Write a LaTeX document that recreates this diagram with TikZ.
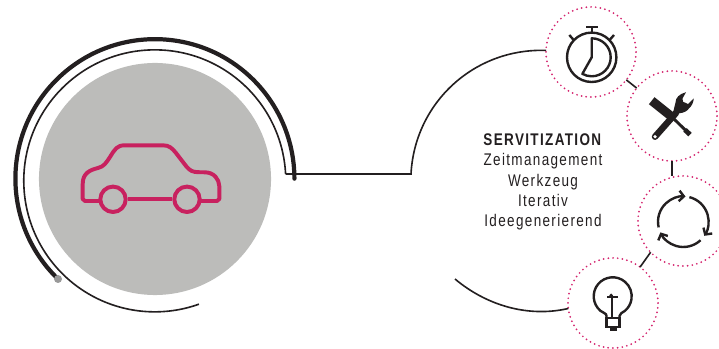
\documentclass[tikz,border=0pt]{standalone}
\usepackage{fontspec}
\newfontfamily\labelfont[FakeStretch=0.8,LetterSpace=8]{Liberation Sans}
\usetikzlibrary{arrows.meta}
\definecolor{ink}{HTML}{231F20}
\definecolor{hubgray}{HTML}{BCBCBA}
\definecolor{carpink}{HTML}{C8215F}
\definecolor{dotpink}{HTML}{D4246E}
\begin{document}
\begin{tikzpicture}[x=0.025cm,y=0.025cm,>=Stealth,
  wire/.style={draw=ink,line width=1.15pt},
  ringthick/.style={draw=ink,line width=3pt,line cap=round},
  caricon/.style={draw=carpink,line width=2.8pt,line join=round},
  icon/.style={draw=ink,line width=1.7pt},
  turn/.style={icon,-{Straight Barb[length=3.4pt,width=7.5pt]}},
  spot/.style={circle,draw=dotpink,line width=1.4pt,line cap=round,dash pattern=on 0pt off 3.35pt,minimum size=2.25cm,inner sep=0pt,outer sep=0pt}]
\useasboundingbox (0,0) rectangle (719,349);
\node[circle,fill=hubgray,minimum size=5.8cm,inner sep=0pt] (hub) at (155,170) {};
\coordinate (thickstart) at (58,70);
\coordinate (ringout) at (285.6,175);
\coordinate (bendin) at (411,175);
\coordinate (arcin) at (455,70);
\draw[ringthick] (thickstart) arc[start angle=226,end angle=0,radius=139.5];
\node[circle,fill=gray!80,minimum size=0.2cm,inner sep=0pt] (ringdot) at (thickstart) {};
\draw[wire] (ringout) arc[start angle=3,end angle=289.7,radius=131];
% spots
\node[spot] (watch) at (591,297) {};
\node[spot] (tools) at (672,233) {};
\node[spot] (cycle) at (683,128) {};
\node[spot] (bulb) at (613,46) {};
\draw[wire] (ringout)--(bendin) to[out=87,in=178] (watch.178);
\draw[wire] (arcin) to[out=-40,in=193,looseness=.9] (bulb.187);
\draw[wire] (watch)--(tools);\draw[wire] (tools.south)--(tools.south |- cycle.north);\draw[wire] (cycle.224)--(bulb.53);
% car
\draw[caricon] (100.5,148)--(85,148)--(82.7,150)--(82.7,165) .. controls (82.7,176) and (90,179) .. (98,181) .. controls (104,182.5) and (106,186) .. (110,192) .. controls (115,200) and (117,203.7) .. (125,203.7)--(163,203.7) .. controls (169,203.7) and (172,201) .. (176,196)--(186,183) .. controls (190,178) and (193,177) .. (198,176.8)--(205,176.7) .. controls (214,176.5) and (219,170) .. (219.3,163)--(219.3,150)--(217,148)--(201,148);
\node[circle,caricon,minimum size=0.635cm,inner sep=0pt] (wheelL) at (113,149.7) {};
\node[circle,caricon,minimum size=0.635cm,inner sep=0pt] (wheelR) at (187,149.7) {};
\draw[caricon] (wheelL)--(wheelR);
% watch
\draw[icon] (591.7,291.7) circle[radius=24.7];
\draw[icon] (591.7,322.3)--(591.7,316.4);\draw[icon] (586,322.3)--(597.7,322.3);
\draw[icon] (569.3,314)--(574.3,308.3);\draw[icon] (614,314)--(609,308.3);
\draw[icon,line join=round] (591.7,310.7) arc[start angle=90,end angle=-119.4,radius=19]--(591.7,291.7)--cycle;
% tools
\draw[ink,line width=4.6pt,line cap=round] (655,212.3)--(676,236);
\fill[white] (655,212.3) circle[radius=1.8];
\fill[ink] (686,256.8) .. controls (679,255) and (675.5,251) .. (675.5,246.5)--(673.3,237.3)--(679.3,235.7) .. controls (684,236) and (688,238.5) .. (689,240.7) .. controls (692,243) and (693.5,247) .. (693.8,250.5)--(688,245)--(683,247.3)--(682.5,250.5)--cycle;
\draw[ink,line width=6.4pt] (651.7,248.3)--(671.7,232.3);
\draw[ink,line width=2.1pt] (671.7,232.3)--(689.3,215);
\draw[ink,line width=3.5pt] (685,219.2)--(690,214.3);
% cycle
\draw[turn] (683.3,127.3)+(193:25.3) arc[start angle=193,end angle=85,radius=25.3];
\draw[turn] (683.3,127.3)+(76:25.3) arc[start angle=76,end angle=-34,radius=25.3];
\draw[turn] (683.3,127.3)+(-47:25.3) arc[start angle=-47,end angle=-155,radius=25.3];
% bulb
\draw[icon] (606.5,30.7)--(606.5,33) .. controls (606.5,36) and (603,35.8) .. (600.5,38.15) arc[start angle=230,end angle=-50,radius=19] .. controls (622.4,35.8) and (619.5,36) .. (619.5,33)--(619.5,30.7);
\draw[icon] (606.5,22.3) rectangle (619.5,30.7);
\fill[ink] (610,18.3) rectangle (616.7,22.3);
\draw[icon] (612.3,54)--(612.3,30.7);\draw[icon] (607.3,52.3)--(618.3,52.3);
\fill[ink] (611,53.7) circle[radius=1.8];
% text
\node[align=center,text=ink,font=\labelfont\fontsize{12}{14.4}\selectfont] (servit) at (543,167) {\textbf{SERVITIZATION}\\Zeitmanagement\\Werkzeug\\Iterativ\\Ideegenerierend};
\end{tikzpicture}
\end{document}
